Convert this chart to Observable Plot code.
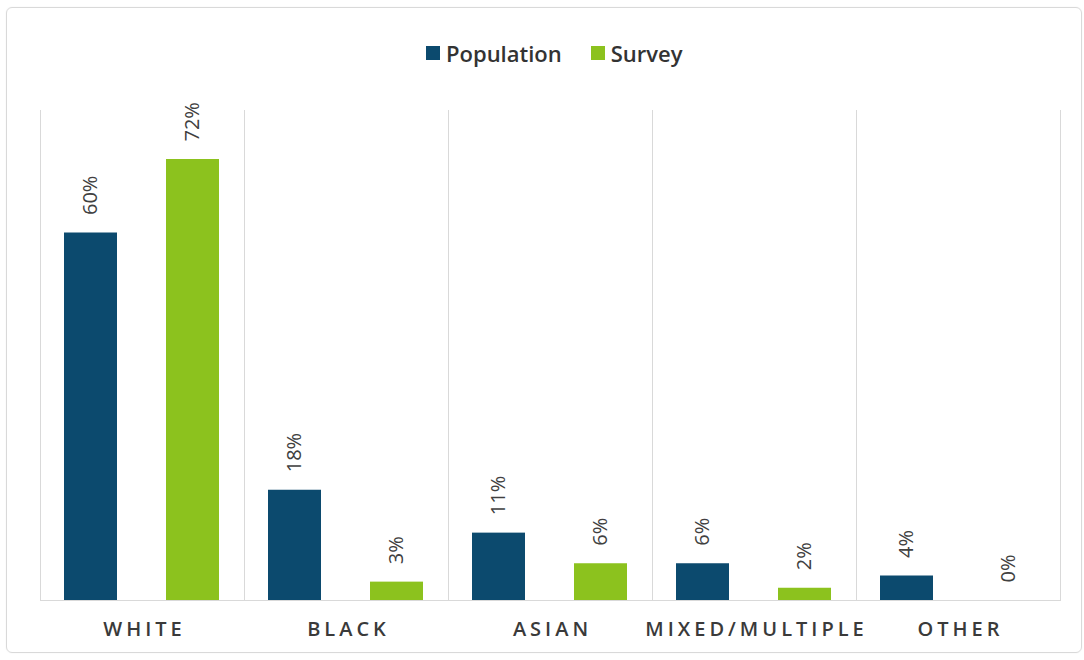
<!DOCTYPE html>
<html>
<head>
<meta charset="utf-8">
<script src="https://cdn.jsdelivr.net/npm/d3@7"></script>
<script src="https://cdn.jsdelivr.net/npm/@observablehq/plot@0.6"></script>
<style>
  html, body { margin: 0; padding: 0; background: #fff; }
  body { width: 1084px; height: 660px; position: relative; overflow: hidden; font-family: "Open Sans", sans-serif; }
  #border { position: absolute; left: 6px; top: 7px; width: 1074px; height: 644px; border: 1px solid #d9d9d9; border-radius: 6px; box-shadow: 0 0 2px rgba(0,0,0,0.06); }
  #legend { position: absolute; left: 426px; top: 38px; height: 30px; display: flex; align-items: center; color: #333; font-size: 22px; font-weight: 600; }
  .item { display: flex; align-items: center; }
  .sw { width: 14px; height: 14px; margin-right: 6px; }
  #chart { position: absolute; left: 0; top: 90px; }
</style>
</head>
<body>
<div id="border"></div>
<div id="legend"></div>
<div id="chart"></div>
<script>
const categories = ["WHITE", "BLACK", "ASIAN", "MIXED/MULTIPLE", "OTHER"];
const series = ["Population", "Survey"];
const population = [60, 18, 11, 6, 4];
const survey = [72, 3, 6, 2, 0];
const colors = ["#0c4a6e", "#8cc21e"];

const data = categories.flatMap((c, i) => [
  {category: c, series: series[0], value: population[i]},
  {category: c, series: series[1], value: survey[i]}
]);

// legend
const legend = document.getElementById("legend");
series.forEach((s, i) => {
  const item = document.createElement("div");
  item.className = "item";
  if (i > 0) item.style.marginLeft = "29px";
  const sw = document.createElement("div");
  sw.className = "sw";
  sw.style.background = colors[i];
  const t = document.createElement("span");
  t.textContent = s;
  item.appendChild(sw);
  item.appendChild(t);
  legend.appendChild(item);
});

const chart = Plot.plot({
  width: 1084,
  height: 570,
  marginTop: 20,
  marginBottom: 60,
  marginLeft: 40,
  marginRight: 24,
  style: {fontFamily: "Open Sans", background: "transparent"},
  fx: {domain: categories, padding: 0, axis: null},
  x: {domain: series, paddingInner: 0.476, paddingOuter: 0.233, axis: null},
  y: {domain: [0, 80], axis: null},
  color: {domain: series, range: colors},
  marks: [
    Plot.frame({anchor: "left", stroke: "#d9d9d9"}),
    Plot.frame({anchor: "right", stroke: "#d9d9d9"}),
    Plot.barY(data, {fx: "category", x: "series", y: "value", fill: "series"}),
    Plot.ruleY([0], {stroke: "#d9d9d9", strokeWidth: 1.2}),
    Plot.text(data, {fx: "category", x: "series", y: "value", text: d => d.value + "%", rotate: -90, textAnchor: "start", dy: -18, fontSize: 20, fill: "#404040"}),
    Plot.text(categories, {fx: d => d, text: d => d, frameAnchor: "bottom", dy: 35, dx: 2, fontSize: 20, fontWeight: 600, fill: "#3a3a3a"})
  ]
});
document.getElementById("chart").appendChild(chart);
d3.select(chart).selectAll("text")
  .filter(function() { return categories.includes(this.textContent); })
  .style("letter-spacing", "4px");
</script>
</body>
</html>
